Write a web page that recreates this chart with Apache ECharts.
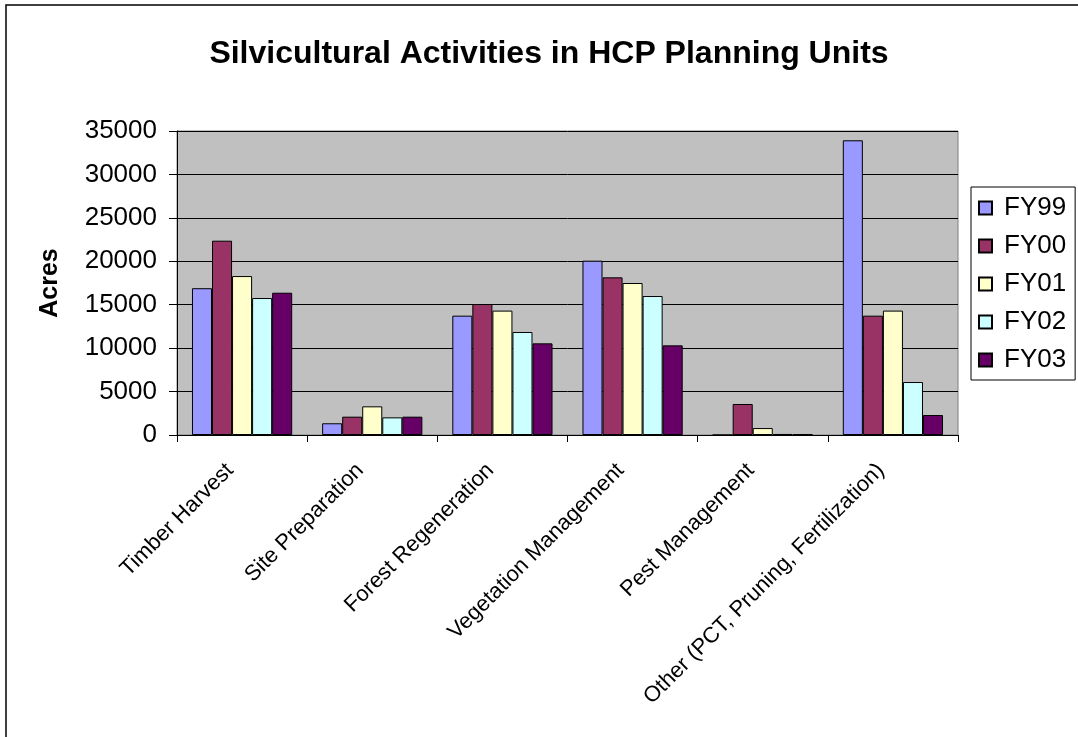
<!DOCTYPE html>
<html>
<head>
<meta charset="utf-8">
<script src="https://cdn.jsdelivr.net/npm/echarts@6/dist/echarts.min.js"></script>
<style>
  html, body { margin: 0; padding: 0; background: #fff; }
  #chart { width: 1078px; height: 737px; }
</style>
</head>
<body>
<div id="chart"></div>
<script>
// 类别与各年度数据（英亩）
const categories = ['Timber Harvest', 'Site Preparation', 'Forest Regeneration',
  'Vegetation Management', 'Pest Management', 'Other (PCT, Pruning, Fertilization)']
const seriesNames = ['FY99', 'FY00', 'FY01', 'FY02', 'FY03']
const fy99 = [16900, 1350, 13740, 20070, 0, 33930]
const fy00 = [22370, 2110, 15080, 18150, 3570, 13740]
const fy01 = [18300, 3300, 14320, 17500, 800, 14320]
const fy02 = [15770, 2030, 11860, 16000, 120, 6100]
const fy03 = [16380, 2110, 10550, 10320, 100, 2300]
const yTicks = [0, 5000, 10000, 15000, 20000, 25000, 30000, 35000]
const titleText = 'Silvicultural Activities in HCP Planning Units'

const colors = ['#9999ff', '#993366', '#ffffcc', '#ccffff', '#660066']
const font = "'Liberation Sans', Arial, sans-serif"

const chart = echarts.init(document.getElementById('chart'))
const allData = [fy99, fy00, fy01, fy02, fy03]

const series = seriesNames.map((name, i) => ({
  name: name,
  type: 'bar',
  data: allData[i],
  barGap: '0%',
  barCategoryGap: '23%',
  itemStyle: { color: colors[i], borderColor: '#000', borderWidth: 1 }
}))

chart.setOption({
  animation: false,
  textStyle: { fontFamily: font },
  graphic: [
    {
      // 外框（只露出左、上两边）
      type: 'rect',
      shape: { x: 6, y: 5, width: 1200, height: 900 },
      style: { fill: 'none', stroke: '#000', lineWidth: 1.5 },
      silent: true
    },
    {
      type: 'text',
      x: 549,
      y: 54,
      style: {
        text: titleText,
        align: 'center',
        verticalAlign: 'middle',
        font: "bold 32px 'Liberation Sans', Arial, sans-serif",
        fill: '#000'
      },
      silent: true
    }
  ],
  legend: {
    orient: 'vertical',
    left: 971,
    top: 187,
    width: 106,
    padding: [8, 9, 7, 7],
    itemGap: 12,
    itemWidth: 13,
    itemHeight: 13,
    icon: 'rect',
    borderColor: '#000',
    borderWidth: 1,
    backgroundColor: '#fff',
    textStyle: { fontSize: 26, color: '#000', fontFamily: font, padding: [0, 0, 0, 7] },
    data: seriesNames
  },
  grid: {
    left: 177,
    right: 120,
    top: 131,
    bottom: 302,
    show: true,
    backgroundColor: '#c0c0c0',
    borderColor: '#808080',
    borderWidth: 1
  },
  xAxis: {
    type: 'category',
    data: categories,
    axisLine: { lineStyle: { color: '#000', width: 1 } },
    axisTick: { show: true, length: 7, lineStyle: { color: '#000' } },
    axisLabel: {
      rotate: 45,
      interval: 0,
      margin: 20,
      padding: [0, 17, 0, 0],
      fontSize: 22,
      color: '#000',
      fontFamily: font
    }
  },
  yAxis: {
    type: 'value',
    name: 'Acres',
    nameLocation: 'middle',
    nameGap: 114,
    nameTextStyle: { fontSize: 25, fontWeight: 'bold', color: '#000', fontFamily: font },
    min: yTicks[0],
    max: yTicks[yTicks.length - 1],
    interval: 5000,
    axisLine: { show: true, lineStyle: { color: '#000', width: 1 } },
    axisTick: { show: true, length: 8, lineStyle: { color: '#000' } },
    axisLabel: { fontSize: 26, color: '#000', margin: 20, fontFamily: font, formatter: v => String(v) },
    splitLine: { lineStyle: { color: '#000', width: 1 } }
  },
  color: colors,
  series: series
})
</script>
</body>
</html>
